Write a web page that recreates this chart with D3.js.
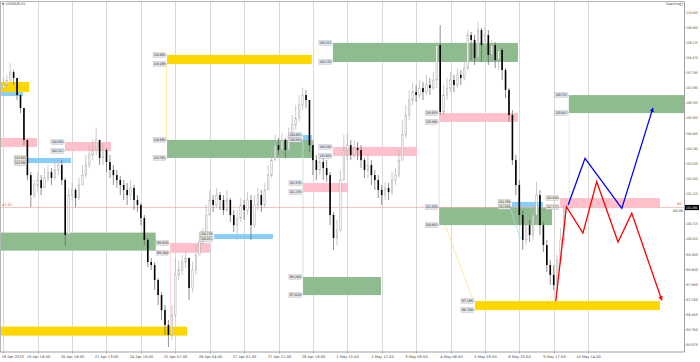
<!DOCTYPE html>
<html>
<head>
<meta charset="utf-8">
<script src="https://cdn.jsdelivr.net/npm/d3@7"></script>
<style>
body { margin: 0; background: #fff; }
svg { display: block; font-family: "DejaVu Sans", sans-serif; }
</style>
</head>
<body>
<script>
const W = 700, H = 362;
const plotL = 0, plotR = 684.5, plotT = 2, plotB = 352;

// hourly bars: [open, high, low, close]
const candles = [
  [107.06,107.53,106.87,107.20],[107.20,107.67,107.06,107.43],[107.43,108.22,107.34,107.80],[107.80,107.90,107.20,107.53],
  [107.53,107.53,106.50,106.73],[106.73,106.73,105.89,106.13],[106.13,106.13,104.40,104.64],[104.64,104.64,102.77,103.00],
  [103.00,103.14,101.51,102.07],[102.07,102.77,101.93,102.54],[102.54,103.14,102.21,102.77],[102.77,103.00,102.07,102.40],
  [102.40,103.33,102.40,102.87],[102.87,103.47,102.68,103.14],[103.14,103.33,102.54,102.87],[102.87,103.61,102.77,103.24],
  [103.24,103.80,103.00,103.47],[103.47,103.70,102.54,102.77],[102.77,102.87,99.70,100.21],[100.21,102.40,99.98,102.07],
  [102.07,102.63,101.84,102.31],[102.31,102.40,101.51,101.93],[101.93,102.87,101.84,102.54],[102.54,103.47,102.54,103.00],
  [103.00,103.94,102.87,103.47],[103.47,104.40,103.33,103.94],[103.94,104.64,103.70,104.17],[104.17,105.20,103.94,104.64],
  [104.64,104.64,103.47,103.80],[103.80,104.50,103.47,104.17],[104.17,104.26,103.14,103.61],[103.61,103.94,102.87,103.24],
  [103.24,103.47,102.54,103.00],[103.00,103.24,102.40,102.77],[102.77,102.96,102.07,102.54],[102.54,102.77,101.84,102.31],
  [102.31,102.63,101.61,102.07],[102.07,102.77,101.84,102.40],[102.40,102.54,101.37,101.84],[101.84,102.07,101.28,101.61],
  [101.61,101.70,100.67,101.00],[101.00,101.14,99.74,99.98],[99.98,100.07,98.72,98.95],[98.95,99.14,98.58,98.81],
  [98.81,98.95,97.65,98.11],[98.11,98.21,96.95,97.41],[97.41,97.55,96.25,96.71],[96.71,96.95,95.55,96.02],
  [96.02,96.25,94.99,95.55],[95.55,96.95,95.32,96.48],[96.48,99.14,96.34,98.35],[98.35,99.04,98.11,98.58],
  [98.58,99.28,98.35,98.95],[98.95,99.42,98.67,99.14],[99.14,99.14,97.18,97.74],[97.74,98.95,97.55,98.58],
  [98.58,99.74,98.35,99.28],[99.28,100.35,99.28,99.88],[99.88,100.54,99.74,100.21],[100.21,101.61,100.07,101.14],
  [101.14,102.31,101.14,101.84],[101.84,102.07,101.28,101.61],[101.61,102.40,101.47,102.07],[102.07,102.21,101.37,101.84],
  [101.84,102.07,101.14,101.37],[101.37,102.31,101.28,101.84],[101.84,101.93,100.81,101.14],[101.14,101.37,100.35,100.67],
  [100.67,101.37,99.98,101.00],[101.00,101.93,100.81,101.61],[101.61,101.84,100.91,101.37],[101.37,102.21,101.14,101.84],
  [101.84,102.07,99.98,100.67],[100.67,102.07,100.54,101.61],[101.61,102.40,101.37,102.07],[102.07,102.31,101.28,101.61],
  [101.61,102.63,101.47,102.31],[102.31,103.47,102.31,103.00],[103.00,104.17,102.87,103.70],[103.70,104.87,103.70,104.40],
  [104.40,104.73,103.94,104.17],[104.17,104.96,104.17,104.64],[104.64,104.73,103.80,104.17],[104.17,105.20,104.08,104.87],
  [104.87,105.80,104.73,105.34],[105.34,106.27,105.10,105.66],[105.66,106.73,105.48,106.27],[106.27,107.06,106.03,106.73],
  [106.73,106.97,106.13,106.50],[106.50,106.50,104.08,104.40],[104.40,104.64,103.00,103.70],[103.70,103.94,102.77,103.24],
  [103.24,103.94,103.00,103.61],[103.61,103.80,102.77,103.33],[103.33,103.70,102.68,103.00],[103.00,103.14,100.67,101.14],
  [101.14,101.28,99.51,100.07],[100.07,100.91,99.74,100.44],[100.44,103.24,100.35,102.77],[102.77,104.87,102.77,104.17],
  [104.17,104.96,103.70,104.40],[104.40,104.64,103.70,103.94],[103.94,104.64,103.80,104.26],[104.26,104.54,103.70,104.17],
  [104.17,104.40,103.33,103.70],[103.70,103.80,102.87,103.24],[103.24,103.94,102.87,103.47],[103.47,103.70,102.54,103.00],
  [103.00,103.24,102.31,102.77],[102.77,103.00,101.93,102.31],[102.31,102.54,101.61,102.07],[102.07,102.68,101.84,102.40],
  [102.40,102.63,101.84,102.21],[102.21,103.14,102.07,102.77],[102.77,103.33,102.54,103.00],[103.00,104.17,102.87,103.70],
  [103.70,105.57,103.70,104.87],[104.87,106.27,104.73,105.80],[105.80,106.97,105.57,106.50],[106.50,107.34,106.27,106.87],
  [106.87,107.20,106.41,106.73],[106.73,107.43,106.59,107.06],[107.06,107.34,106.50,106.87],[106.87,107.67,106.73,107.20],
  [107.20,107.53,106.73,107.06],[107.06,107.80,106.97,107.43],[107.43,109.20,107.06,109.06],[109.06,109.99,105.80,105.94],
  [105.94,107.20,105.80,106.73],[106.73,107.53,106.50,107.06],[107.06,107.80,106.87,107.43],[107.43,107.67,106.87,107.20],
  [107.20,107.99,107.06,107.67],[107.67,107.90,107.20,107.53],[107.53,108.46,107.43,107.99],[107.99,109.76,107.90,109.53],
  [109.53,109.67,108.36,109.30],[109.30,109.53,108.13,108.46],[108.46,110.13,108.36,109.76],[109.76,109.86,108.27,109.06],
  [109.06,109.86,108.83,109.53],[109.53,109.76,108.13,108.60],[108.60,109.30,108.36,109.06],[109.06,109.20,107.99,108.36],
  [108.36,109.06,107.90,108.83],[108.83,108.92,107.43,107.90],[107.90,107.99,106.59,106.97],[106.97,107.06,105.48,105.80],
  [105.80,106.03,103.47,103.70],[103.70,103.94,102.07,102.54],[102.54,102.77,100.67,101.14],[101.14,101.37,99.51,99.98],
  [99.98,101.14,99.74,100.67],[100.67,100.91,99.88,100.21],[100.21,101.61,99.98,101.14],[101.14,102.68,100.67,102.07],
  [102.07,102.31,100.21,100.67],[100.67,100.81,99.42,99.74],[99.74,99.98,98.48,98.81],[98.81,99.04,97.88,98.35],
  [98.35,98.81,97.65,97.88],[97.88,99.28,97.55,99.04],[99.04,100.54,98.81,99.98],[99.98,101.61,99.74,101.47]
];

// one date label every 10 bars
const timeLabels = [
  "18 Apr 2023", "19 Apr 16:00", "20 Apr 16:00", "21 Apr 13:00", "24 Apr 10:00", "25 Apr 07:00",
  "26 Apr 04:00", "27 Apr 01:00", "27 Apr 21:00", "28 Apr 18:00", "1 May 15:00", "2 May 12:00",
  "3 May 09:00", "4 May 06:00", "5 May 03:00", "8 May 20:00", "9 May 17:00", "10 May 14:00"
];

const priceTicks = [110.585, 109.880, 109.175, 108.470, 107.765, 107.060, 106.355, 105.650, 104.945,
  104.240, 103.535, 102.830, 102.125, 101.420, 100.715, 100.010, 99.305, 98.600, 97.895, 97.190,
  96.485, 95.780, 95.075];

const zoneColors = { green: "#8fbc8f", pink: "#ffc0cb", gold: "#ffd700", blue: "#87cefa" };

// zones: [fromBar, toBar, top, bottom, colour, topLabel, bottomLabel]
const zones = [
  [-1, 7.5, 107.34, 106.87, "gold", null, null],
  [-1, 5.7, 106.87, 106.69, "blue", null, null],
  [-1, 9.8, 104.73, 104.31, "pink", null, null],
  [7.2, 19.7, 103.80, 103.56, "blue", "103.803", "103.558"],
  [17.9, 31.3, 104.54, 104.12, "pink", "104.589", "104.152"],
  [-1, 44.3, 100.32, 99.48, "green", null, null],
  [-1, 53.4, 95.94, 95.52, "gold", null, null],
  [48.5, 60.1, 99.84, 99.38, "pink", "99.835", "99.384"],
  [61.3, 78.4, 100.25, 100.02, "blue", "100.276", "100.032"],
  [47.6, 89.7, 108.60, 108.18, "gold", "108.605", "108.169"],
  [47.6, 89.7, 104.64, 103.80, "green", "104.668", "103.793"],
  [87.1, 89.7, 104.87, 104.64, "blue", "104.863", "104.658"],
  [95.8, 149.6, 109.16, 108.27, "green", "109.153", "108.279"],
  [95.8, 120.3, 104.31, 103.89, "pink", "104.349", "103.903"],
  [87.1, 100.2, 102.63, 102.21, "pink", "102.676", "102.239"],
  [87.1, 109.8, 98.25, 97.41, "green", "98.288", "97.420"],
  [126.7, 149.6, 105.89, 105.48, "pink", "105.935", "105.498"],
  [147.9, 156.9, 101.75, 101.51, "blue", "101.799", "101.609"],
  [126.7, 159.5, 101.51, 100.67, "green", "101.500", "100.683"],
  [161.8, 190.9, 101.93, 101.51, "pink", "102.049", "101.727"],
  [164.4, 199, 106.73, 105.89, "green", "106.752", "105.887"],
  [137.1, 190.9, 97.13, 96.71, "gold", "97.165", "96.749"]
];

// thin connectors and rays: [bar1, price1, bar2, price2, colour]
const thinLines = [
  [47.5, 108.18, 47.5, 104.64, "#ffe680"],
  [48.6, 99.38, 48.6, 95.94, "#ffd0d8"],
  [87.1, 104.64, 87.1, 98.25, "#c8e0c8"],
  [126.7, 105.48, 126.7, 101.51, "#c8e0c8"],
  [164.5, 105.89, 164.5, 101.93, "#d8ecd8"],
  [128.4, 100.67, 136.7, 97.13, "#ffe680"],
  [147.3, 101.51, 150.3, 100.02, "#a8d8f8"]
];

// projected paths drawn on the right: [bar, price]
const redPath = [[160.6, 97.13], [163.7, 101.53], [168.5, 100.30], [172.5, 102.69], [178.7, 99.88], [182.7, 101.22], [191.4, 97.18]];
const bluePath = [[164.2, 101.61], [169.1, 103.78], [179.8, 101.45], [188.8, 106.11]];

const lastPrice = 101.49;

const x = d3.scaleLinear().domain([0, 199]).range([3.3, 3.3 + 3.44 * 199]);
const y = d3.scaleLinear().domain([94.757, 111.067]).range([plotB, plotT]);

const svg = d3.select("body").append("svg").attr("width", W).attr("height", H);

svg.append("defs").append("clipPath").attr("id", "plot")
  .append("rect").attr("x", plotL).attr("y", plotT).attr("width", plotR - plotL).attr("height", plotB - plotT);

['red', 'blue'].forEach(c => {
  svg.select("defs").append("marker")
    .attr("id", "arr-" + c).attr("viewBox", "0 0 10 10").attr("refX", 8).attr("refY", 5)
    .attr("markerWidth", 3.5).attr("markerHeight", 3.5).attr("orient", "auto")
    .append("path").attr("d", "M0,0L10,5L0,10z").attr("fill", c);
});

const g = svg.append("g").attr("clip-path", "url(#plot)");

// vertical grid
g.selectAll("line.grid")
  .data(timeLabels)
  .join("line")
  .attr("class", "grid")
  .attr("x1", (d, i) => Math.round(x(i * 10)) + 0.5)
  .attr("x2", (d, i) => Math.round(x(i * 10)) + 0.5)
  .attr("y1", plotT).attr("y2", plotB)
  .attr("stroke", "#d9d9d9").attr("stroke-width", 1);

// zones
g.selectAll("rect.zone")
  .data(zones)
  .join("rect")
  .attr("class", "zone")
  .attr("x", d => x(d[0]))
  .attr("y", d => y(d[2]))
  .attr("width", d => x(d[1]) - x(d[0]))
  .attr("height", d => y(d[3]) - y(d[2]))
  .attr("fill", d => zoneColors[d[4]]);

g.selectAll("line.thin")
  .data(thinLines)
  .join("line")
  .attr("class", "thin")
  .attr("x1", d => x(d[0])).attr("y1", d => y(d[1]))
  .attr("x2", d => x(d[2])).attr("y2", d => y(d[3]))
  .attr("stroke", d => d[4]).attr("stroke-width", 0.8);

// current price line
g.append("line")
  .attr("x1", plotL).attr("x2", plotR)
  .attr("y1", y(lastPrice)).attr("y2", y(lastPrice))
  .attr("stroke", "#f4a8a8").attr("stroke-width", 0.7);

// candles
const bars = g.selectAll("g.bar")
  .data(candles)
  .join("g")
  .attr("class", "bar");

bars.append("line")
  .attr("x1", (d, i) => x(i)).attr("x2", (d, i) => x(i))
  .attr("y1", d => y(d[1])).attr("y2", d => y(d[2]))
  .attr("stroke", d => d[3] < d[0] ? "#606060" : "#b4b4b4")
  .attr("stroke-width", 0.7);

bars.append("rect")
  .attr("x", (d, i) => x(i) - 0.8)
  .attr("width", 1.6)
  .attr("y", d => y(Math.max(d[0], d[3])))
  .attr("height", d => Math.max(0.6, Math.abs(y(d[0]) - y(d[3]))))
  .attr("fill", d => d[3] < d[0] ? "#000" : "#f6f6f6")
  .attr("stroke", d => d[3] < d[0] ? "none" : "#a0a0a0")
  .attr("stroke-width", 0.4);

// projections
const line = d3.line().x(d => x(d[0])).y(d => y(d[1]));
g.append("path").datum(redPath).attr("d", line)
  .attr("fill", "none").attr("stroke", "red").attr("stroke-width", 1.3)
  .attr("marker-end", "url(#arr-red)");
g.append("path").datum(bluePath).attr("d", line)
  .attr("fill", "none").attr("stroke", "blue").attr("stroke-width", 1.3)
  .attr("marker-end", "url(#arr-blue)");

// zone price labels
const tags = [];
zones.forEach(z => {
  if (z[5]) tags.push({ bar: z[0], price: z[2], text: z[5] });
  if (z[6]) tags.push({ bar: z[0], price: z[3], text: z[6] });
});
const tagG = svg.append("g").selectAll("g")
  .data(tags)
  .join("g")
  .attr("transform", d => `translate(${x(d.bar)},${y(d.price)})`);
tagG.append("rect")
  .attr("x", -14).attr("y", -2.3).attr("width", 12.5).attr("height", 4.6)
  .attr("fill", "#e6e6e6").attr("stroke", "#9a9a9a").attr("stroke-width", 0.3);
tagG.append("line")
  .attr("x1", -1.5).attr("x2", 0).attr("y1", 0).attr("y2", 0)
  .attr("stroke", "#777").attr("stroke-width", 0.4);
tagG.append("text")
  .attr("x", -7.75).attr("y", 1.3)
  .attr("text-anchor", "middle")
  .attr("font-size", 3.4).attr("fill", "#222")
  .attr("textLength", 11).attr("lengthAdjust", "spacingAndGlyphs")
  .text(d => d.text);

// frame
svg.append("line").attr("x1", 0).attr("x2", plotR).attr("y1", 1.5).attr("y2", 1.5).attr("stroke", "#b5b5b5");
svg.append("line").attr("x1", 0.5).attr("x2", 0.5).attr("y1", 1.5).attr("y2", plotB).attr("stroke", "#b5b5b5");
svg.append("line").attr("x1", plotR).attr("x2", plotR).attr("y1", 1.5).attr("y2", plotB).attr("stroke", "#a0a0a0");
svg.append("line").attr("x1", 0).attr("x2", plotR).attr("y1", plotB).attr("y2", plotB).attr("stroke", "#a0a0a0");

// right price axis
const yAxis = svg.append("g").selectAll("g")
  .data(priceTicks)
  .join("g")
  .attr("transform", d => `translate(${plotR},${y(d)})`);
yAxis.append("line").attr("x1", 0).attr("x2", 1.2).attr("stroke", "#777").attr("stroke-width", 0.5);
yAxis.append("text").attr("x", 1.8).attr("y", 1.2)
  .attr("font-size", 3.4).attr("fill", "#444")
  .attr("textLength", 11.5).attr("lengthAdjust", "spacingAndGlyphs")
  .text(d => d.toFixed(3));

// last price tag
svg.append("rect").attr("x", plotR + 0.5).attr("y", y(lastPrice) - 2.6)
  .attr("width", 14).attr("height", 5.2).attr("fill", "#000");
svg.append("text").attr("x", plotR + 1.5).attr("y", y(lastPrice) + 1.3)
  .attr("font-size", 3.4).attr("fill", "#fff")
  .attr("textLength", 11.5).attr("lengthAdjust", "spacingAndGlyphs")
  .text(lastPrice.toFixed(3));
svg.append("text").attr("x", 677).attr("y", y(lastPrice) - 2.5)
  .attr("font-size", 3.4).attr("fill", "#e04020").text("40");
svg.append("text").attr("x", 673).attr("y", y(lastPrice) + 4.2)
  .attr("font-size", 3.4).attr("fill", "#333").text("00:26");
svg.append("text").attr("x", 2).attr("y", y(lastPrice) - 1.5)
  .attr("font-size", 3.6).attr("fill", "#e05030").text("47:07");

// time axis
const xAxis = svg.append("g").selectAll("g")
  .data(timeLabels)
  .join("g")
  .attr("transform", (d, i) => `translate(${Math.round(x(i * 10)) + 0.5},${plotB})`);
xAxis.append("line").attr("y1", 0).attr("y2", 1.5).attr("stroke", "#777").attr("stroke-width", 0.5);
xAxis.append("text").attr("y", 5.8)
  .attr("text-anchor", (d, i) => i === 0 ? "start" : "middle")
  .attr("x", (d, i) => i === 0 ? -2 : 0)
  .attr("font-size", 3.6).attr("fill", "#444")
  .text(d => d);

// title and toolbar text
svg.append("path").attr("d", "M1.5,3.2L4.5,3.2L3,5z").attr("fill", "#555");
svg.append("text").attr("x", 5.5).attr("y", 5.3).attr("font-size", 3.4).attr("fill", "#444").text("USDRUB,H1");
svg.append("text").attr("x", 666).attr("y", 5.3).attr("font-size", 3.4).attr("fill", "#444").text("Searcher");
svg.append("circle").attr("cx", 681.5).attr("cy", 4.2).attr("r", 1.5).attr("fill", "none").attr("stroke", "#777").attr("stroke-width", 0.5);
</script>
</body>
</html>
